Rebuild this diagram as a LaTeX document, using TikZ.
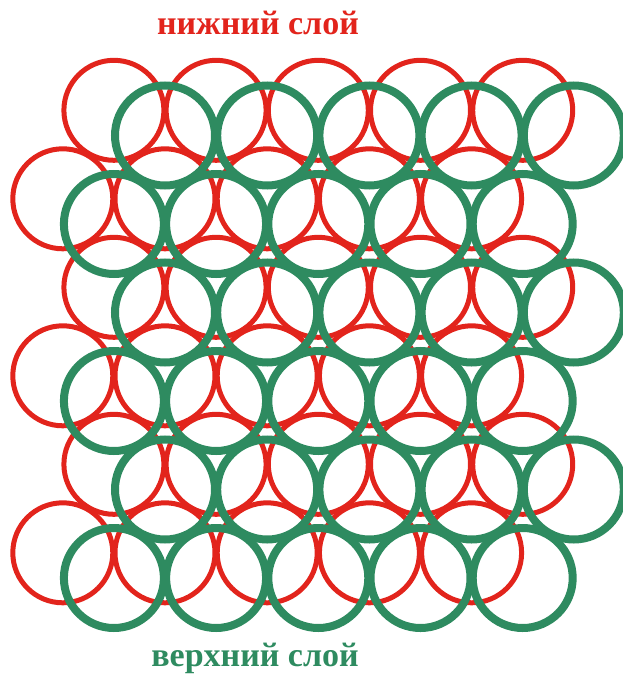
\documentclass[tikz,border=0pt]{standalone}
\usepackage{fontspec}
\setmainfont{Liberation Serif}
\usetikzlibrary{positioning}
\definecolor{lowred}{RGB}{226,36,28}
\definecolor{topgreen}{RGB}{46,139,96}
\tikzset{
  lowball/.style={draw=lowred, line width=5pt},
  topball/.style={draw=topgreen, line width=8pt},
  layerlabel/.style={font=\bfseries\fontsize{34}{34}\selectfont, inner sep=0pt}
}

\begin{document}
\begin{tikzpicture}[x=1pt, y=-1pt]
  \useasboundingbox (0,0) rectangle (623,674);
  % lower layer
  \foreach \row in {0,...,5}{
    \pgfmathsetmacro{\xo}{isodd(\row) ? 62.8 : 113.9}
    \foreach \col in {0,...,4}
      \draw[lowball] (\xo+\col*102.2, 110.3+\row*88.5) circle[radius=50];
  }
  % upper layer, sits in the hollows
  \foreach \row in {0,...,5}{
    \pgfmathsetmacro{\xo}{isodd(\row) ? 113.9 : 165.0}
    \foreach \col in {0,...,4}
      \draw[topball] (\xo+\col*102.2, 135.5+\row*88.5) circle[radius=50];
  }
  \node[layerlabel, text=lowred] (lowname) at (258,23) {нижний слой};
  \node[layerlabel, text=topgreen] (topname) at (255,658) {верхний слой};
\end{tikzpicture}
\end{document}
